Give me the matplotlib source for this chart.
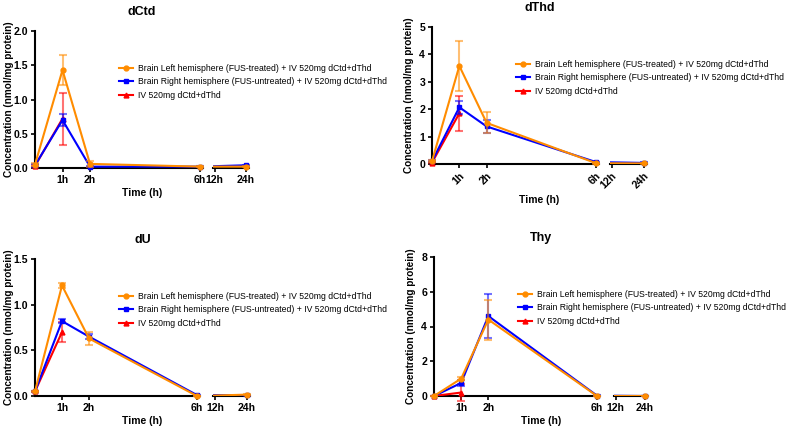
import matplotlib
matplotlib.use('Agg')
import matplotlib.pyplot as plt
import numpy as np

plt.rcParams['font.family'] = ['Liberation Sans', 'DejaVu Sans']

# data: time points (h); red series only measured at 0h and 1h
t = [0, 1, 2, 6, 24]
t_iv = [0, 1]

labels = ['Brain Left hemisphere (FUS-treated) + IV 520mg dCtd+dThd',
          'Brain Right hemisphere (FUS-untreated) + IV 520mg dCtd+dThd',
          'IV 520mg dCtd+dThd']

# dCtd
dctd_left = [0.05, 1.43, 0.06, 0.02, 0.02]
dctd_left_err = [0.02, 0.22, 0.04, 0.01, 0.01]
dctd_right = [0.04, 0.70, 0.02, 0.02, 0.04]
dctd_right_err = [0.02, 0.09, 0.01, 0.01, 0.01]
dctd_iv = [0.03, 0.72]
dctd_iv_err = [0.01, 0.38]

# dThd
dthd_left = [0.10, 3.58, 1.50, 0.03, 0.02]
dthd_left_err = [0.03, 0.92, 0.38, 0.02, 0.02]
dthd_right = [0.10, 2.07, 1.37, 0.07, 0.04]
dthd_right_err = [0.03, 0.23, 0.25, 0.02, 0.02]
dthd_iv = [0.05, 1.85]
dthd_iv_err = [0.02, 0.63]

# dU
du_left = [0.05, 1.21, 0.63, 0.00, 0.015]
du_left_err = [0.01, 0.03, 0.07, 0.005, 0.005]
du_right = [0.05, 0.82, 0.65, 0.01, 0.01]
du_right_err = [0.01, 0.02, 0.03, 0.005, 0.005]
du_iv = [0.05, 0.70]
du_iv_err = [0.01, 0.11]

# Thy
thy_left = [0.0, 1.0, 4.4, 0.0, 0.0]
thy_left_err = [0.02, 0.1, 1.15, 0.02, 0.02]
thy_right = [0.0, 0.75, 4.6, 0.02, 0.0]
thy_right_err = [0.02, 0.15, 1.25, 0.02, 0.02]
thy_iv = [0.0, 0.2]
thy_iv_err = [0.02, 0.5]

panels = [
    ('dCtd', dctd_left, dctd_left_err, dctd_right, dctd_right_err, dctd_iv, dctd_iv_err,
     [0, 0.5, 1.0, 1.5, 2.0], '%.1f', 0),
    ('dThd', dthd_left, dthd_left_err, dthd_right, dthd_right_err, dthd_iv, dthd_iv_err,
     [0, 1, 2, 3, 4, 5], '%d', 45),
    ('dU', du_left, du_left_err, du_right, du_right_err, du_iv, du_iv_err,
     [0, 0.5, 1.0, 1.5], '%.1f', 0),
    ('Thy', thy_left, thy_left_err, thy_right, thy_right_err, thy_iv, thy_iv_err,
     [0, 2, 4, 6, 8], '%d', 0),
]

ORANGE = '#FF8C00'
BLUE = '#0000FF'
RED = '#FF0000'

W, H = 790, 428
fig = plt.figure(figsize=(W / 100, H / 100), dpi=100)

# pixel geometry for each panel: (x0 of axis, x of 6h, seg2 start, seg2 end, top, bottom, ylabel right edge)
geo = [
    (35, 200, 213, 249, 31, 168, 14),
    (432, 596, 610, 647, 27, 164, 414),
    (35, 197, 213, 250, 259, 396, 14),
    (434, 597, 614, 648, 257, 396, 416),
]


def fax(x0, x1, top, bot):
    return [x0 / W, 1 - bot / H, (x1 - x0) / W, (bot - top) / H]


def draw(ax, x, y, err, color, marker, label, xmin, xmax, z):
    # connecting line (crosses the axis break, so clip it)
    ax.plot(x, y, color=color, lw=1.5, zorder=z)
    # markers and error bars only for points inside this segment
    xs = [a for a in x if xmin <= a <= xmax]
    ys = [b for a, b in zip(x, y) if xmin <= a <= xmax]
    es = [e for a, e in zip(x, err) if xmin <= a <= xmax]
    if not xs:
        return
    ax.errorbar(xs, ys, yerr=es, fmt='none', ecolor=color, alpha=0.55,
                elinewidth=1.5, capsize=3, capthick=1.5, clip_on=False, zorder=z)
    ax.plot(xs, ys, color=color, lw=1.5, marker=marker, ms=3.5, ls='none',
            clip_on=False, zorder=z + 0.5)
    ax.plot([], [], color=color, lw=1.5, marker=marker, ms=3.5, label=label)


for p, g in zip(panels, geo):
    name, l, le, r, re_, iv, ive, yt, fmt, rot = p
    x0, x6, s0, s1, top, bot, ylx = g
    pxh = (x6 - x0) / 6.0
    x1 = x6 + 3
    ax1 = fig.add_axes(fax(x0, x1, top, bot))
    ax2 = fig.add_axes(fax(s0, s1, top, bot))
    lim1 = (0, (x1 - x0) / pxh)
    lim2 = (11.3, 25.3)
    ax1.set_xlim(*lim1)
    ax2.set_xlim(*lim2)

    for ax, lim in ((ax1, lim1), (ax2, lim2)):
        ax.set_ylim(0, yt[-1])
        draw(ax, t_iv, iv, ive, RED, '^', labels[2], lim[0], lim[1], 3)
        draw(ax, t, r, re_, BLUE, 's', labels[1], lim[0], lim[1], 4)
        draw(ax, t, l, le, ORANGE, 'o', labels[0], lim[0], lim[1], 5)
        for s in ('top', 'right'):
            ax.spines[s].set_visible(False)
        ax.spines['bottom'].set_linewidth(1.5)
        ax.spines['left'].set_linewidth(1.5)
        ax.tick_params(width=1.2, length=3, labelsize=7.6, pad=2)
        ax.patch.set_visible(False)

    ax2.spines['left'].set_visible(False)
    ax2.set_yticks([])

    ax1.set_yticks(yt)
    ax1.set_yticklabels([fmt % v for v in yt], fontweight='bold')
    ax1.set_xticks([1, 2, 6])
    ax2.set_xticks([12, 24])
    for ax, lbls in ((ax1, ['1h', '2h', '6h']), (ax2, ['12h', '24h'])):
        if rot:
            ax.set_xticklabels(lbls, fontweight='bold', rotation=45, ha='right',
                               rotation_mode='anchor')
        else:
            ax.set_xticklabels(lbls, fontweight='bold')

    ax1.set_ylabel('Concentration (nmol/mg protein)', fontsize=7.2, fontweight='bold')
    ax1.yaxis.set_label_coords((ylx - x0) / (x1 - x0), 0.5)

    cx = (x0 + s1) / 2.0 / W
    fig.text(cx, 1 - (top - 19) / H, name, ha='center', va='center', fontsize=9,
             fontweight='bold')
    xl_y = bot + (36 if rot else 25)
    fig.text(cx, 1 - xl_y / H, 'Time (h)', ha='center', va='center', fontsize=7.5,
             fontweight='bold')

    h, lb = ax1.get_legend_handles_labels()
    ax1.legend(h[::-1], lb[::-1], loc='upper left',
               bbox_to_anchor=((x0 + 84) / W, 1 - (top + 33) / H),
               bbox_transform=fig.transFigure, frameon=False, fontsize=6.2,
               handlelength=1.6, handletextpad=0.6, labelspacing=0.5,
               borderpad=0, borderaxespad=0)

fig.savefig('out.png', dpi=100)
